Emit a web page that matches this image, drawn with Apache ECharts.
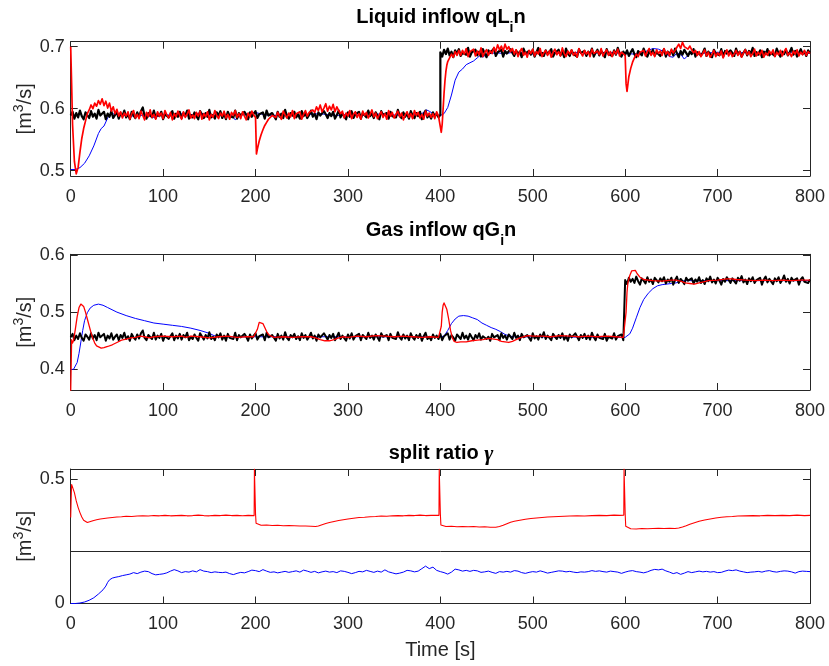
<!DOCTYPE html>
<html>
<head>
<meta charset="utf-8">
<script src="https://cdn.jsdelivr.net/npm/echarts@6/dist/echarts.min.js"></script>
<style>
  html, body { margin: 0; padding: 0; background: #ffffff; }
  #chart { width: 829px; height: 666px; }
</style>
</head>
<body>
<div id="chart"></div>
<script>
// ---------------------------------------------------------------------------
// Axis tick labels
// ---------------------------------------------------------------------------
const timeTicks = [0, 100, 200, 300, 400, 500, 600, 700, 800];
const liquidTicks = [0.5, 0.6, 0.7];
const gasTicks = [0.4, 0.5, 0.6];
const splitTicks = [0, 0.5];

// ---------------------------------------------------------------------------
// Liquid inflow qL_in  — measured (black) sampled every 2 s, two set-point levels
// ---------------------------------------------------------------------------
const liqBlackLow = [ // t = 0 .. 400
  0.589,0.595,0.584,0.593,0.586,0.597,0.588,0.583,0.594,0.591,0.585,0.596,0.587,0.592,0.584,0.598,0.589,0.586,0.595,0.583,
  0.592,0.587,0.596,0.585,0.590,0.594,0.584,0.593,0.588,0.597,0.586,0.591,0.583,0.595,0.589,0.585,0.594,0.587,0.596,0.602,
  0.588,0.584,0.593,0.590,0.586,0.597,0.585,0.592,0.588,0.595,0.583,0.591,0.594,0.586,0.589,0.596,0.584,0.592,0.587,0.595,
  0.585,0.593,0.589,0.597,0.584,0.590,0.586,0.594,0.588,0.583,0.596,0.591,0.585,0.593,0.587,0.598,0.586,0.590,0.584,0.594,
  0.589,0.596,0.585,0.592,0.583,0.595,0.588,0.591,0.586,0.597,0.584,0.593,0.589,0.586,0.595,0.590,0.583,0.594,0.587,0.592,
  0.596,0.585,0.591,0.588,0.594,0.584,0.597,0.589,0.586,0.593,0.590,0.583,0.595,0.587,0.592,0.585,0.598,0.588,0.584,0.593,
  0.589,0.595,0.586,0.591,0.584,0.596,0.588,0.593,0.585,0.590,0.597,0.587,0.592,0.583,0.594,0.589,0.586,0.596,0.591,0.585,
  0.593,0.588,0.595,0.584,0.590,0.597,0.586,0.592,0.589,0.583,0.594,0.587,0.596,0.585,0.591,0.588,0.595,0.584,0.593,0.590,
  0.586,0.597,0.588,0.592,0.585,0.594,0.589,0.583,0.596,0.590,0.587,0.593,0.584,0.595,0.588,0.591,0.586,0.598,0.589,0.585,
  0.594,0.587,0.592,0.584,0.596,0.589,0.585,0.593,0.588,0.595,0.583,0.591,0.597,0.586,0.590,0.584,0.594,0.588,0.592,0.586,
  0.590
];
const liqBlackHigh = [ // t = 400 .. 800
  0.691,0.684,0.695,0.688,0.697,0.686,0.692,0.683,0.694,0.689,0.696,0.685,0.690,0.693,0.687,0.698,0.684,0.691,0.688,0.695,
  0.686,0.692,0.684,0.696,0.689,0.683,0.694,0.690,0.687,0.697,0.685,0.691,0.688,0.695,0.684,0.693,0.689,0.686,0.696,0.690,
  0.685,0.694,0.688,0.692,0.683,0.697,0.689,0.686,0.693,0.687,0.695,0.684,0.691,0.698,0.686,0.690,0.685,0.694,0.688,0.692,
  0.696,0.684,0.690,0.687,0.695,0.686,0.692,0.683,0.697,0.689,0.685,0.694,0.688,0.691,0.684,0.696,0.690,0.687,0.693,0.685,
  0.692,0.688,0.697,0.684,0.690,0.695,0.686,0.693,0.689,0.683,0.696,0.688,0.691,0.685,0.694,0.687,0.698,0.689,0.684,0.692,
  0.687,0.694,0.685,0.691,0.696,0.688,0.683,0.693,0.690,0.686,0.697,0.689,0.684,0.692,0.688,0.695,0.686,0.691,0.694,0.685,
  0.690,0.696,0.684,0.692,0.688,0.694,0.686,0.697,0.689,0.683,0.693,0.687,0.695,0.690,0.685,0.692,0.688,0.696,0.684,0.691,
  0.694,0.686,0.690,0.697,0.685,0.692,0.688,0.683,0.695,0.689,0.691,0.686,0.696,0.684,0.693,0.689,0.687,0.694,0.690,0.685,
  0.697,0.688,0.692,0.684,0.690,0.695,0.686,0.693,0.689,0.698,0.685,0.691,0.687,0.694,0.683,0.692,0.688,0.696,0.686,0.690,
  0.693,0.685,0.697,0.689,0.684,0.692,0.688,0.695,0.686,0.691,0.698,0.687,0.693,0.684,0.690,0.696,0.688,0.692,0.685,0.694,
  0.690
];
// Estimate (blue), [t, value]
const liqBlue = [
  [0,0.502],[5,0.502],[10,0.505],[15,0.512],[20,0.524],[25,0.540],[30,0.560],[33,0.568],[36,0.572],[40,0.585],[43,0.592],
  [50,0.591],[60,0.589],[70,0.588],[80,0.590],[90,0.586],[95,0.588],[100,0.591],[110,0.589],[120,0.592],[130,0.590],
  [140,0.593],[150,0.590],[160,0.589],[170,0.591],[175,0.588],[178,0.582],[181,0.586],[185,0.590],[195,0.592],[200,0.594],
  [210,0.590],[220,0.589],[230,0.591],[240,0.590],[250,0.589],[260,0.591],[270,0.592],[280,0.590],[290,0.589],[300,0.591],
  [310,0.590],[320,0.589],[330,0.591],[340,0.592],[350,0.590],[360,0.589],[370,0.591],[380,0.592],[385,0.598],[388,0.596],
  [392,0.592],[396,0.590],[400,0.589],[404,0.592],[408,0.602],[412,0.622],[416,0.646],[420,0.659],[424,0.664],[428,0.671],
  [432,0.674],[436,0.677],[440,0.682],[443,0.686],[446,0.683],[450,0.688],[460,0.690],[470,0.689],[480,0.691],[490,0.690],
  [500,0.688],[510,0.690],[520,0.691],[530,0.689],[540,0.690],[550,0.691],[560,0.689],[570,0.690],[580,0.691],[590,0.690],
  [600,0.689],[610,0.688],[620,0.691],[630,0.697],[636,0.696],[642,0.692],[648,0.684],[652,0.683],[656,0.690],[660,0.688],
  [664,0.680],[668,0.686],[672,0.690],[680,0.689],[690,0.690],[700,0.691],[710,0.690],[720,0.689],[730,0.691],[740,0.690],
  [750,0.692],[760,0.689],[770,0.690],[780,0.691],[790,0.690],[800,0.689]
];
// Controlled inflow (red): transients as [t, value], steady stretches every 2 s
const liqRedStart = [
  [0,0.700],[1,0.640],[2,0.575],[4,0.515],[6,0.495],[8,0.505],[10,0.530],[12,0.552],[14,0.568],[16,0.580],[18,0.592],
  [20,0.598],[22,0.606],[24,0.600],[26,0.609],[28,0.604],[30,0.613],[32,0.607],[34,0.616],[36,0.605],[38,0.612],[40,0.601],
  [42,0.609],[44,0.596],[46,0.603],[48,0.592],[50,0.599],[52,0.588],[54,0.595],[56,0.585],[58,0.593]
];
const liqRedSteady1 = [ // t = 60 .. 198
  0.588,0.595,0.583,0.592,0.597,0.585,0.591,0.584,0.596,0.589,
  0.582,0.594,0.587,0.598,0.586,0.591,0.583,0.595,0.588,0.593,
  0.584,0.597,0.590,0.585,0.594,0.582,0.592,0.587,0.596,0.589,
  0.583,0.595,0.586,0.591,0.598,0.585,0.590,0.584,0.594,0.588,
  0.596,0.583,0.592,0.587,0.595,0.582,0.591,0.586,0.597,0.589,
  0.584,0.593,0.588,0.596,0.585,0.591,0.583,0.594,0.589,0.597,
  0.586,0.592,0.584,0.595,0.588,0.582,0.593,0.587,0.596,0.590
];
const liqRedDip200 = [
  [200,0.586],[201,0.527],[202,0.535],[204,0.548],[206,0.558],[208,0.566],[210,0.573],[212,0.578],[214,0.583],[216,0.586],
  [218,0.589],[220,0.592]
];
const liqRedSteady2 = [ // t = 222 .. 398
  0.586,0.594,0.588,0.583,0.596,0.590,0.585,0.593,0.587,0.597,0.584,0.592,0.589,0.595,0.583,0.591,0.597,0.588,0.594,0.592,0.598,
  0.594,0.603,0.597,0.606,0.595,0.601,0.608,0.596,0.604,0.598,0.607,0.595,0.603,0.597,0.592,
  0.596,0.585,0.593,0.588,0.597,0.584,0.591,0.595,0.586,0.592,
  0.583,0.596,0.589,0.594,0.585,0.591,0.598,0.587,0.593,0.584,
  0.590,0.595,0.586,0.592,0.583,0.597,0.588,0.594,0.585,0.591,
  0.596,0.587,0.593,0.582,0.590,0.595,0.586,0.592,0.584,0.597,
  0.589,0.594,0.585,0.591,0.583,0.596,0.588,0.593,0.586,0.592,
  0.584,0.595,0.588
];
const liqRedDip400 = [
  [400,0.585],[401,0.562],[402,0.575],[403,0.600],[404,0.625],[405,0.645],[406,0.660],[407,0.670],[408,0.676],[410,0.682],
  [412,0.688],[414,0.683],[416,0.692],[418,0.686],[420,0.694]
];
const liqRedSteady3 = [ // t = 422 .. 598
  0.686,0.694,0.688,0.697,0.684,0.692,0.689,0.696,0.685,0.693,0.687,0.698,0.684,0.691,0.695,0.686,0.693,0.689,
  0.699,0.692,0.703,0.695,0.701,0.693,0.704,0.696,0.700,0.692,0.697,
  0.688,0.695,0.684,0.692,0.697,0.686,0.691,0.683,0.694,0.689,
  0.696,0.685,0.692,0.688,0.697,0.684,0.690,0.694,0.686,0.693,
  0.683,0.691,0.696,0.687,0.692,0.685,0.698,0.689,0.684,0.693,
  0.688,0.695,0.686,0.691,0.683,0.697,0.690,0.685,0.694,0.688,
  0.692,0.684,0.696,0.689,0.686,0.693,0.687,0.697,0.685,0.691,
  0.695,0.686,0.692,0.684,0.693,0.688,0.696,0.685,0.691,0.688
];
const liqRedDip600 = [
  [600,0.686],[601,0.640],[602,0.628],[603,0.640],[604,0.652],[606,0.665],[608,0.675],[610,0.682],[612,0.688],[614,0.684],
  [616,0.691]
];
const liqRedSteady4 = [ // t = 618 .. 800
  0.688,0.694,0.685,0.692,0.697,0.686,0.691,0.684,0.695,0.689,0.693,0.686,0.697,0.688,0.692,0.685,0.696,0.690,0.694,
  0.699,0.704,0.697,0.707,0.700,0.703,0.696,0.701,0.695,
  0.690,0.694,0.686,0.692,0.684,0.689,0.695,0.685,0.691,0.683,
  0.688,0.694,0.684,0.690,0.686,0.693,0.682,0.689,0.695,0.685,
  0.691,0.684,0.688,0.694,0.686,0.692,0.683,0.690,0.695,0.687,
  0.692,0.684,0.689,0.696,0.685,0.691,0.687,0.694,0.683,0.690,
  0.686,0.693,0.688,0.695,0.684,0.691,0.687,0.694,0.685,0.692,
  0.697,0.686,0.690,0.684,0.693,0.688,0.695,0.685,0.691,0.687,
  0.694,0.686,0.692,0.689
];

// ---------------------------------------------------------------------------
// Gas inflow qG_in
// ---------------------------------------------------------------------------
const gasBlackLow = [ // t = 0 .. 600, every 2 s
  0.456,0.462,0.451,0.459,0.453,0.463,0.455,0.450,0.461,0.457,0.452,0.463,0.454,0.460,0.451,0.464,0.456,0.453,0.462,0.450,
  0.459,0.454,0.463,0.452,0.457,0.461,0.451,0.460,0.455,0.464,0.453,0.458,0.450,0.462,0.456,0.452,0.461,0.454,0.463,0.468,
  0.455,0.451,0.460,0.457,0.453,0.464,0.452,0.459,0.455,0.462,0.450,0.458,0.461,0.453,0.456,0.463,0.451,0.459,0.454,0.462,
  0.452,0.460,0.456,0.464,0.451,0.457,0.453,0.461,0.455,0.450,0.463,0.458,0.452,0.460,0.454,0.465,0.453,0.457,0.451,0.461,
  0.456,0.463,0.452,0.459,0.450,0.462,0.455,0.458,0.453,0.464,0.451,0.460,0.456,0.453,0.462,0.457,0.450,0.461,0.454,0.459,
  0.463,0.452,0.458,0.455,0.461,0.451,0.464,0.456,0.453,0.460,0.457,0.450,0.462,0.454,0.459,0.452,0.465,0.455,0.451,0.460,
  0.456,0.462,0.453,0.458,0.451,0.463,0.455,0.460,0.452,0.457,0.464,0.454,0.459,0.450,0.461,0.456,0.453,0.463,0.458,0.452,
  0.460,0.455,0.462,0.451,0.457,0.464,0.453,0.459,0.456,0.450,0.461,0.454,0.463,0.452,0.458,0.455,0.462,0.451,0.460,0.457,
  0.453,0.464,0.455,0.459,0.452,0.461,0.456,0.450,0.463,0.457,0.454,0.460,0.451,0.462,0.455,0.458,0.453,0.465,0.456,0.452,
  0.461,0.454,0.459,0.451,0.463,0.456,0.452,0.460,0.455,0.462,0.450,0.458,0.464,0.453,0.457,0.451,0.461,0.455,0.459,0.453,
  0.462,0.451,0.458,0.455,0.463,0.452,0.460,0.456,0.450,0.461,0.457,0.453,0.464,0.454,0.459,0.452,0.462,0.456,0.451,0.460,
  0.455,0.463,0.452,0.458,0.461,0.453,0.457,0.450,0.462,0.456,0.454,0.460,0.451,0.463,0.455,0.459,0.452,0.461,0.457,0.453,
  0.464,0.455,0.459,0.451,0.462,0.456,0.453,0.460,0.457,0.450,0.463,0.454,0.458,0.452,0.461,0.456,0.465,0.453,0.459,0.455,
  0.451,0.462,0.457,0.453,0.460,0.455,0.463,0.452,0.458,0.450,0.461,0.456,0.454,0.463,0.457,0.451,0.460,0.455,0.462,0.453,
  0.459,0.452,0.464,0.456,0.451,0.461,0.455,0.458,0.453,0.462,0.450,0.457,0.460,0.454,0.463,0.452,0.458,0.456,0.461,0.451,
  0.449
];
const gasBlackHigh = [ // t = 600 .. 800, every 2 s
  0.556,0.549,0.560,0.553,0.558,0.551,0.562,0.554,0.548,0.559,0.555,0.550,0.561,0.553,0.557,0.549,0.560,0.556,0.552,0.559,
  0.554,0.561,0.550,0.557,0.553,0.560,0.548,0.556,0.562,0.551,0.558,0.554,0.549,0.560,0.555,0.552,0.559,0.550,0.557,0.553,
  0.561,0.551,0.556,0.549,0.559,0.554,0.562,0.552,0.557,0.550,0.560,0.555,0.548,0.558,0.553,0.561,0.556,0.551,0.559,0.554,
  0.550,0.560,0.555,0.563,0.552,0.557,0.549,0.559,0.554,0.561,0.551,0.556,0.553,0.560,0.548,0.557,0.562,0.552,0.558,0.555,
  0.549,0.559,0.554,0.561,0.551,0.556,0.564,0.553,0.558,0.550,0.560,0.555,0.552,0.559,0.548,0.557,0.561,0.553,0.556,0.551,
  0.557
];
const gasBlue = [
  [0,0.400],[3,0.400],[5,0.403],[7,0.412],[9,0.428],[11,0.448],[13,0.468],[15,0.485],[18,0.499],[21,0.507],[25,0.512],
  [30,0.514],[35,0.512],[40,0.508],[50,0.500],[60,0.494],[70,0.489],[80,0.485],[90,0.481],[100,0.479],[110,0.477],
  [120,0.475],[130,0.472],[140,0.468],[150,0.463],[155,0.459],[160,0.457],[200,0.457],[400,0.457],[404,0.458],[408,0.468],
  [412,0.480],[416,0.488],[420,0.493],[425,0.494],[430,0.493],[435,0.490],[440,0.487],[445,0.481],[450,0.477],[455,0.473],
  [460,0.470],[465,0.466],[470,0.461],[475,0.458],[480,0.457],[600,0.456],[602,0.457],[605,0.462],[608,0.472],[612,0.490],
  [616,0.508],[620,0.522],[625,0.533],[630,0.541],[635,0.546],[640,0.548],[645,0.549],[650,0.550],[655,0.551],[660,0.554],
  [665,0.555],[800,0.555]
];
const gasRed = [
  [0,0.362],[1,0.452],[2,0.446],[3,0.450],[5,0.470],[7,0.492],[9,0.508],[11,0.514],[12,0.515],[14,0.510],[16,0.500],
  [18,0.488],[20,0.476],[22,0.464],[24,0.454],[26,0.446],[28,0.441],[30,0.438],[33,0.437],[36,0.438],[40,0.440],[45,0.443],
  [50,0.447],[55,0.451],[60,0.453],[65,0.455],[70,0.456],[75,0.458],[80,0.457],[85,0.455],[90,0.457],[100,0.458],
  [110,0.457],[120,0.458],[125,0.456],[130,0.458],[140,0.457],[150,0.455],[160,0.457],[170,0.458],[180,0.456],[190,0.457],
  [198,0.457],[200,0.459],[202,0.470],[204,0.482],[206,0.484],[208,0.480],[210,0.473],[212,0.466],[214,0.461],[217,0.458],
  [220,0.456],[230,0.457],[240,0.456],[250,0.457],[260,0.457],[265,0.455],[270,0.452],[275,0.450],[280,0.450],[285,0.452],
  [290,0.455],[295,0.457],[300,0.456],[310,0.458],[320,0.457],[330,0.459],[340,0.458],[350,0.457],[360,0.458],[370,0.457],
  [380,0.456],[390,0.457],[398,0.456],[400,0.457],[401,0.475],[402,0.500],[403,0.512],[404,0.516],[405,0.515],[407,0.505],
  [409,0.488],[411,0.468],[413,0.455],[415,0.449],[418,0.447],[422,0.448],[428,0.448],[434,0.450],[440,0.451],[446,0.452],
  [452,0.454],[458,0.453],[462,0.452],[466,0.449],[470,0.448],[474,0.447],[478,0.449],[482,0.452],[486,0.455],[490,0.457],
  [495,0.459],[500,0.458],[510,0.458],[520,0.457],[530,0.459],[540,0.458],[550,0.457],[560,0.458],[570,0.457],[580,0.458],
  [590,0.457],[598,0.456],[600,0.458],[601,0.500],[602,0.535],[603,0.552],[605,0.564],[607,0.572],[609,0.575],[611,0.573],
  [613,0.567],[616,0.561],[620,0.557],[625,0.556],[630,0.555],[640,0.554],[650,0.556],[655,0.556],[660,0.554],[665,0.551],
  [670,0.550],[675,0.549],[680,0.551],[685,0.553],[690,0.555],[700,0.556],[710,0.558],[715,0.558],[720,0.557],[730,0.556],
  [740,0.555],[750,0.556],[760,0.555],[770,0.556],[780,0.555],[790,0.556],[800,0.556]
];

// ---------------------------------------------------------------------------
// Split ratio gamma
// ---------------------------------------------------------------------------
const splitRed = [
  [0,0.345],[0.5,0.420],[1,0.478],[2,0.472],[4,0.445],[6,0.412],[8,0.386],[10,0.365],[12,0.347],[14,0.334],[16,0.327],
  [18,0.325],[20,0.328],[24,0.332],[28,0.336],[32,0.339],[36,0.341],[40,0.343],[45,0.345],[50,0.347],[55,0.348],[60,0.350],
  [66,0.349],[72,0.351],[78,0.352],[84,0.351],[90,0.353],[96,0.352],[102,0.354],[108,0.352],[114,0.353],[120,0.354],
  [126,0.352],[132,0.353],[138,0.355],[144,0.353],[150,0.352],[156,0.354],[162,0.353],[168,0.355],[174,0.353],[180,0.354],
  [186,0.352],[192,0.354],[198.5,0.353],[198.8,0.540],[199.6,0.540],[200,0.360],[200.6,0.322],[202,0.316],[206,0.314],
  [212,0.315],[218,0.313],[224,0.314],[230,0.312],[236,0.313],[242,0.312],[248,0.311],[254,0.311],[260,0.310],[265,0.309],
  [268,0.311],[272,0.316],[276,0.321],[280,0.325],[285,0.329],[290,0.333],[295,0.336],[300,0.339],[306,0.342],[312,0.345],
  [318,0.346],[324,0.348],[330,0.349],[336,0.351],[342,0.350],[348,0.352],[354,0.353],[360,0.352],[366,0.354],[372,0.353],
  [378,0.355],[384,0.353],[390,0.354],[398.5,0.354],[398.8,0.540],[399.6,0.540],[400,0.360],[400.6,0.315],[402,0.311],
  [406,0.309],[412,0.310],[418,0.308],[424,0.309],[430,0.308],[436,0.309],[442,0.307],[448,0.308],[454,0.306],[460,0.306],
  [464,0.309],[468,0.314],[472,0.320],[476,0.326],[480,0.330],[486,0.334],[492,0.338],[498,0.341],[504,0.343],[510,0.345],
  [516,0.347],[522,0.348],[528,0.349],[534,0.350],[540,0.351],[548,0.352],[556,0.351],[564,0.353],[572,0.354],[580,0.353],
  [588,0.355],[594,0.354],[598.5,0.355],[598.8,0.540],[599.6,0.540],[600,0.360],[600.6,0.310],[602,0.302],[606,0.300],
  [612,0.299],[618,0.301],[624,0.300],[630,0.301],[636,0.302],[642,0.301],[648,0.302],[654,0.301],[658,0.303],[662,0.307],
  [666,0.312],[670,0.318],[675,0.324],[680,0.330],[686,0.335],[692,0.339],[698,0.343],[704,0.346],[710,0.348],[716,0.349],
  [722,0.351],[730,0.352],[738,0.353],[746,0.352],[754,0.354],[762,0.353],[770,0.354],[778,0.353],[786,0.355],[794,0.353],
  [800,0.354]
];
const splitBlue = [
  [0,0.000],[5,0.000],[10,0.002],[15,0.006],[20,0.013],[25,0.023],[30,0.038],[35,0.055],[38,0.070],[40,0.085],[42,0.095],
  [45,0.102],[48,0.105],[52,0.108],[56,0.112],[60,0.115],[64,0.118],[68,0.124],[72,0.120],[76,0.126],[80,0.130],[84,0.128],
  [88,0.120],[92,0.115],[96,0.117],[100,0.119],[104,0.123],[108,0.130],[112,0.136],[116,0.131],[120,0.124],[124,0.128],
  [128,0.126],[132,0.131],[136,0.127],[140,0.136],[144,0.130],[148,0.128],[152,0.124],[156,0.127],[160,0.125],[164,0.124],
  [168,0.126],[172,0.120],[176,0.116],[180,0.121],[184,0.125],[188,0.123],[192,0.128],[196,0.134],[200,0.132],[204,0.128],
  [208,0.136],[212,0.130],[216,0.125],[220,0.127],[224,0.123],[228,0.126],[232,0.129],[236,0.125],[240,0.128],[244,0.131],
  [248,0.126],[252,0.134],[256,0.130],[260,0.125],[264,0.129],[268,0.123],[272,0.127],[276,0.130],[280,0.126],[284,0.128],
  [288,0.124],[292,0.131],[296,0.129],[300,0.125],[304,0.120],[308,0.124],[312,0.129],[316,0.127],[320,0.133],[324,0.129],
  [328,0.125],[332,0.130],[336,0.126],[340,0.135],[344,0.127],[348,0.123],[352,0.119],[356,0.122],[360,0.126],[364,0.133],
  [368,0.131],[372,0.127],[376,0.130],[380,0.140],[384,0.150],[388,0.140],[392,0.146],[396,0.133],[400,0.128],[404,0.124],
  [408,0.118],[412,0.126],[416,0.138],[420,0.135],[424,0.130],[428,0.133],[432,0.129],[436,0.133],[440,0.131],[444,0.125],
  [448,0.127],[452,0.130],[456,0.125],[460,0.121],[464,0.128],[468,0.126],[472,0.129],[476,0.126],[480,0.132],[484,0.130],
  [488,0.124],[492,0.121],[496,0.125],[500,0.128],[504,0.126],[508,0.131],[512,0.127],[516,0.122],[520,0.125],[524,0.128],
  [528,0.131],[532,0.130],[536,0.127],[540,0.129],[544,0.126],[548,0.124],[552,0.127],[556,0.126],[560,0.128],[564,0.132],
  [568,0.129],[572,0.131],[576,0.128],[580,0.126],[584,0.130],[588,0.128],[592,0.126],[596,0.121],[600,0.126],[604,0.130],
  [608,0.132],[612,0.128],[616,0.126],[620,0.123],[624,0.127],[628,0.133],[632,0.137],[636,0.135],[640,0.138],[644,0.131],
  [648,0.126],[652,0.120],[656,0.124],[660,0.117],[664,0.122],[668,0.128],[672,0.124],[676,0.127],[680,0.130],[684,0.127],
  [688,0.129],[692,0.126],[696,0.128],[700,0.124],[704,0.125],[708,0.130],[712,0.134],[716,0.132],[720,0.135],[724,0.130],
  [728,0.127],[732,0.124],[736,0.126],[740,0.127],[744,0.129],[748,0.126],[752,0.130],[756,0.132],[760,0.128],[764,0.126],
  [768,0.129],[772,0.131],[776,0.130],[780,0.127],[784,0.122],[788,0.128],[792,0.130],[796,0.129],[800,0.128]
];
const splitDivider = 0.208;

// ---------------------------------------------------------------------------
// Helpers
// ---------------------------------------------------------------------------
// Attach sample times to an evenly sampled record spanning [tStart, tEnd].
function sampled(tStart, tEnd, values) {
  const dt = (tEnd - tStart) / (values.length - 1);
  return values.map((v, i) => [tStart + i * dt, v]);
}

const FONT = '"Liberation Sans", Arial, Helvetica, sans-serif';
const AXIS_COLOR = '#262626';

const panels = [
  { top: 41.7, height: 134.3, yMin: 0.4915, yMax: 0.708, yTicks: liquidTicks },
  { top: 254.3, height: 135.7, yMin: 0.364, yMax: 0.601, yTicks: gasTicks },
  { top: 469, height: 134.5, yMin: 0, yMax: 0.54, yTicks: splitTicks }
];

const unitRich = {
  a: { fontSize: 20, color: AXIS_COLOR, fontFamily: FONT, lineHeight: 20, padding: [4, 0, 0, 0], verticalAlign: 'top' },
  p: { fontSize: 14, color: AXIS_COLOR, fontFamily: FONT, lineHeight: 14, verticalAlign: 'top' }
};

const grids = [], xAxes = [], yAxes = [];
panels.forEach((p, i) => {
  grids.push({
    left: 70.7, right: 19, top: p.top, height: p.height,
    containLabel: false, outerBoundsMode: 'none'
  });
  ['bottom', 'top'].forEach(pos => {
    xAxes.push({
      gridIndex: i, type: 'value', position: pos, min: 0, max: 800, interval: 100,
      axisLine: { show: true, onZero: false, lineStyle: { color: AXIS_COLOR, width: 1 } },
      axisTick: { show: true, inside: true, length: 7, lineStyle: { color: AXIS_COLOR } },
      axisLabel: {
        show: pos === 'bottom', margin: 12, fontSize: 18, color: AXIS_COLOR, fontFamily: FONT,
        customValues: timeTicks, formatter: v => String(v)
      },
      splitLine: { show: false },
      name: (i === 2 && pos === 'bottom') ? 'Time [s]' : '',
      nameLocation: 'middle', nameGap: 37, nameMoveOverlap: false,
      nameTextStyle: { fontSize: 20, color: AXIS_COLOR, fontFamily: FONT }
    });
  });
  ['left', 'right'].forEach(pos => {
    yAxes.push({
      gridIndex: i, type: 'value', position: pos, min: p.yMin, max: p.yMax,
      axisLine: { show: true, onZero: false, lineStyle: { color: AXIS_COLOR, width: 1 } },
      axisTick: { show: true, inside: true, length: 7, customValues: p.yTicks, lineStyle: { color: AXIS_COLOR } },
      axisLabel: {
        show: pos === 'left', margin: 6, fontSize: 18, color: AXIS_COLOR, fontFamily: FONT,
        customValues: p.yTicks, formatter: v => String(v)
      },
      splitLine: { show: false },
      name: pos === 'left' ? '{a|[m}{p|3}{a|/s]}' : '',
      nameLocation: 'middle', nameGap: 39, nameMoveOverlap: false,
      nameTextStyle: { rich: unitRich }
    });
  });
});

function line(panel, data, color, width, z, extra) {
  return Object.assign({
    type: 'line', xAxisIndex: panel * 2, yAxisIndex: panel * 2, data: data,
    showSymbol: false, symbol: 'none', clip: true, z: z, sampling: null,
    lineStyle: { color: color, width: width, join: 'round' }, itemStyle: { color: color },
    emphasis: { disabled: true }
  }, extra || {});
}

const liqRed = liqRedStart.concat(
  sampled(60, 198, liqRedSteady1), liqRedDip200,
  sampled(222, 398, liqRedSteady2), liqRedDip400,
  sampled(422, 598, liqRedSteady3), liqRedDip600,
  sampled(618, 800, liqRedSteady4)
);

const series = [
  line(0, liqBlue, '#0000ff', 1, 2),
  line(0, sampled(0, 400, liqBlackLow).concat(sampled(400, 800, liqBlackHigh)), '#000000', 2.2, 3),
  line(0, liqRed, '#ff0000', 1.7, 4),
  line(1, gasBlue, '#0000ff', 1, 2),
  line(1, sampled(0, 600, gasBlackLow).concat(sampled(600, 800, gasBlackHigh)), '#000000', 2.0, 3),
  line(1, gasRed, '#ff0000', 1.3, 4),
  line(2, splitRed, '#ff0000', 1.1, 4),
  line(2, splitBlue, '#0000ff', 1, 3, {
    markLine: {
      silent: true, symbol: 'none', label: { show: false }, animation: false,
      lineStyle: { color: AXIS_COLOR, type: 'solid', width: 1 },
      data: [{ yAxis: splitDivider }]
    }
  })
];

function titleRich() {
  return {
    b: { fontSize: 20, fontWeight: 'bold', color: '#000', fontFamily: FONT, lineHeight: 22, verticalAlign: 'top' },
    s: { fontSize: 14, fontWeight: 'bold', color: '#000', fontFamily: FONT, lineHeight: 14,
         padding: [14, 0, 0, 0], verticalAlign: 'top' },
    g: { fontSize: 22, fontStyle: 'italic', color: '#000', fontFamily: '"Liberation Serif", "DejaVu Serif", serif',
         lineHeight: 22, verticalAlign: 'top' }
  };
}

const titles = [
  { text: '{b|Liquid inflow qL}{s|i}{b|n}', top: 7 },
  { text: '{b|Gas inflow qG}{s|i}{b|n}', top: 220 },
  { text: '{b|split ratio }{g|γ}', top: 443 }
].map(t => ({
  text: t.text, left: 441, top: t.top, textAlign: 'center', padding: 0,
  textStyle: { rich: titleRich() }
}));

const chart = echarts.init(document.getElementById('chart'), null, { renderer: 'canvas' });
chart.setOption({
  animation: false,
  backgroundColor: '#ffffff',
  textStyle: { fontFamily: FONT },
  title: titles,
  grid: grids,
  xAxis: xAxes,
  yAxis: yAxes,
  series: series
});
</script>
</body>
</html>
